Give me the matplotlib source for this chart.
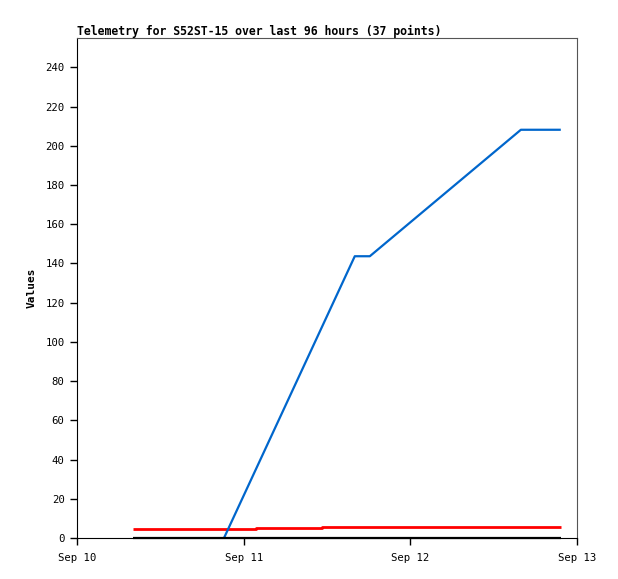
import matplotlib
matplotlib.use('Agg')
import matplotlib.pyplot as plt
import matplotlib.dates as mdates
import numpy as np
from datetime import datetime

# series
blue_times = ['2023-09-10 21:10', '2023-09-11 16:00', '2023-09-11 18:10',
              '2023-09-12 15:55', '2023-09-12 21:40']
blue_values = [0, 143.7, 143.7, 208.2, 208.2]

red_times = ['2023-09-10 08:05', '2023-09-11 01:45', '2023-09-11 01:45',
             '2023-09-11 11:15', '2023-09-11 11:15', '2023-09-12 21:40']
red_values = [4.7, 4.7, 5.2, 5.2, 5.8, 5.8]

black_times = ['2023-09-10 08:05', '2023-09-12 21:40']
black_values = [0.15, 0.15]

x_start = '2023-09-10 00:00'
x_end = '2023-09-13 00:00'
y_max = 255
title = 'Telemetry for S52ST-15 over last 96 hours (37 points)'


def to_dt(lst):
    return [datetime.strptime(s, '%Y-%m-%d %H:%M') for s in lst]


plt.rcParams['font.family'] = 'DejaVu Sans Mono'

fig = plt.figure(figsize=(6.18, 5.79), dpi=100)
ax = fig.add_axes([77 / 618, 1 - 538 / 579, 500 / 618, 500 / 579])

ax.plot(to_dt(red_times), red_values, color='#ff0000', lw=2.0, solid_capstyle='butt')
ax.plot(to_dt(blue_times), blue_values, color='#0066cc', lw=1.6, solid_capstyle='butt')
ax.plot(to_dt(black_times), black_values, color='#000000', lw=1.6,
        solid_capstyle='butt', clip_on=False)

ax.set_xlim(to_dt([x_start])[0], to_dt([x_end])[0])
ax.set_ylim(0, y_max)
ax.set_yticks(np.arange(0, 241, 20))
ax.xaxis.set_major_locator(mdates.DayLocator())
ax.xaxis.set_major_formatter(mdates.DateFormatter('%b %d'))

ax.tick_params(axis='both', direction='out', length=5, width=1, labelsize=7.7,
               colors='black')
ax.tick_params(axis='x', pad=6)
ax.tick_params(axis='y', pad=4)
for side in ['top', 'right']:
    ax.spines[side].set_color('#555555')
for side in ['left', 'bottom']:
    ax.spines[side].set_color('black')

ax.set_ylabel('Values', fontsize=8, fontweight='bold', labelpad=6)
ax.set_title(title, loc='left', fontsize=8.3, fontweight='bold', pad=2)

fig.savefig('out.png', dpi=100)
